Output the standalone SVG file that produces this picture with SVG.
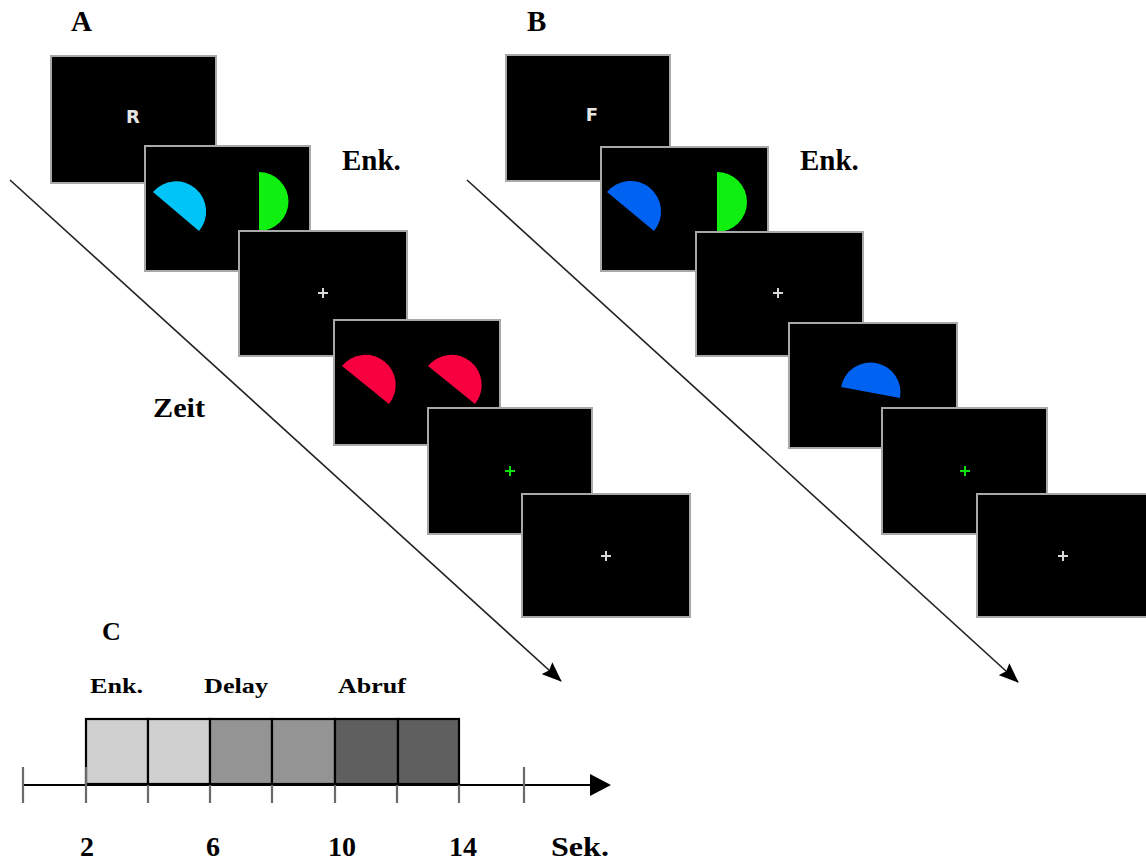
<svg xmlns="http://www.w3.org/2000/svg" width="1146" height="861" viewBox="0 0 1146 861">
<style>
.scr{fill:#000;stroke:#a8a8a8;stroke-width:2}
.lbl{font-family:"Liberation Serif","Times New Roman",serif;font-weight:bold;fill:#000}
.ltr{font-family:"DejaVu Sans","Liberation Sans",sans-serif;font-weight:bold;fill:#e6e6e6;font-size:18px}
.xw{stroke:#d8d8d8;stroke-width:2}
.xg{stroke:#10e010;stroke-width:2}
.tick{stroke:#6a6a6a;stroke-width:2.2}
.box{stroke:#000;stroke-width:2.2}
</style>
<defs>
<marker id="ah" viewBox="0 0 20 16" refX="19" refY="8" markerWidth="20" markerHeight="16" markerUnits="userSpaceOnUse" orient="auto">
<path d="M0,0 L20,8 L0,16 L3,8 Z" fill="#000"/>
</marker>
</defs>
<rect width="1146" height="861" fill="#fff"/>

<g id="connectors">
<line x1="10" y1="180" x2="561" y2="681" stroke="#222" stroke-width="1.6" marker-end="url(#ah)"/>
<line x1="467" y1="180" x2="1018" y2="682" stroke="#222" stroke-width="1.6" marker-end="url(#ah)"/>
</g>

<g id="labels">
<text class="lbl" x="71" y="31" font-size="29">A</text>
<text class="lbl" x="527" y="31" font-size="29">B</text>
<text class="lbl" x="342" y="170" font-size="29">Enk.</text>
<text class="lbl" x="800" y="170" font-size="29">Enk.</text>
<text class="lbl" x="153" y="417" font-size="27" font-weight="600" textLength="52" lengthAdjust="spacingAndGlyphs">Zeit</text>
</g>

<g id="panelA">
<g id="a1"><rect class="scr" x="51" y="56" width="165" height="127"/><text class="ltr" x="133" y="123" text-anchor="middle">R</text></g>
<g id="a2"><rect class="scr" x="145" y="146" width="165" height="125"/>
<path d="M153,192 A30,30 0 0 1 199,231 Z" fill="#00c4f8"/>
<path d="M259,172 A29.5,29.5 0 0 1 259,231 Z" fill="#10f010"/></g>
<g id="a3"><rect class="scr" x="239" y="231" width="168" height="125"/>
<line class="xw" x1="318" y1="293" x2="328" y2="293"/><line class="xw" x1="323" y1="288" x2="323" y2="298"/></g>
<g id="a4"><rect class="scr" x="334" y="320" width="166" height="125"/>
<path d="M342,366 A30,30 0 0 1 389,404 Z" fill="#f80040"/>
<path d="M428,366 A30,30 0 0 1 475,404 Z" fill="#f80040"/></g>
<g id="a5"><rect class="scr" x="428" y="408" width="164" height="126"/>
<line class="xg" x1="505" y1="471" x2="515" y2="471"/><line class="xg" x1="510" y1="466" x2="510" y2="476"/></g>
<g id="a6"><rect class="scr" x="522" y="494" width="168" height="123"/>
<line class="xw" x1="601" y1="556" x2="611" y2="556"/><line class="xw" x1="606" y1="551" x2="606" y2="561"/></g>
</g>

<g id="panelB">
<g id="b1"><rect class="scr" x="506" y="55" width="164" height="126"/><text class="ltr" x="592" y="121" text-anchor="middle">F</text></g>
<g id="b2"><rect class="scr" x="601" y="147" width="167" height="124"/>
<path d="M607,192 A30,30 0 0 1 654,231 Z" fill="#0062f0"/>
<path d="M717,172 A30,30 0 0 1 717,232 Z" fill="#10f010"/></g>
<g id="b3"><rect class="scr" x="696" y="232" width="167" height="124"/>
<line class="xw" x1="773" y1="293" x2="783" y2="293"/><line class="xw" x1="778" y1="288" x2="778" y2="298"/></g>
<g id="b4"><rect class="scr" x="789" y="323" width="168" height="125"/>
<path d="M841,387 A30,30 0 0 1 900,398 Z" fill="#0062f0"/></g>
<g id="b5"><rect class="scr" x="882" y="408" width="165" height="126"/>
<line class="xg" x1="960" y1="471" x2="970" y2="471"/><line class="xg" x1="965" y1="466" x2="965" y2="476"/></g>
<g id="b6"><rect class="scr" x="977" y="494" width="175" height="123"/>
<line class="xw" x1="1058" y1="556" x2="1068" y2="556"/><line class="xw" x1="1063" y1="551" x2="1063" y2="561"/></g>
</g>

<g id="panelC">
<text class="lbl" x="102" y="640" font-size="26">C</text>
<text class="lbl" x="90" y="693" font-size="22" textLength="53" lengthAdjust="spacingAndGlyphs">Enk.</text>
<text class="lbl" x="204" y="693" font-size="22" textLength="64" lengthAdjust="spacingAndGlyphs">Delay</text>
<text class="lbl" x="338" y="693" font-size="22" textLength="68" lengthAdjust="spacingAndGlyphs">Abruf</text>
<g id="boxes">
<rect class="box" x="86" y="719" width="62" height="65" fill="#d0d0d0"/>
<rect class="box" x="148" y="719" width="62" height="65" fill="#d0d0d0"/>
<rect class="box" x="210" y="719" width="62" height="65" fill="#949494"/>
<rect class="box" x="272" y="719" width="63" height="65" fill="#949494"/>
<rect class="box" x="335" y="719" width="63" height="65" fill="#5f5f5f"/>
<rect class="box" x="398" y="719" width="61" height="65" fill="#5f5f5f"/>
</g>
<g id="axis">
<line x1="22" y1="785" x2="592" y2="785" stroke="#000" stroke-width="2.2"/>
<path d="M590,774 L611,785 L590,796 Z" fill="#000"/>
<line class="tick" x1="23" y1="767" x2="23" y2="803"/>
<line class="tick" x1="86" y1="767" x2="86" y2="803"/>
<line class="tick" x1="148" y1="785" x2="148" y2="803"/>
<line class="tick" x1="210" y1="785" x2="210" y2="803"/>
<line class="tick" x1="272" y1="785" x2="272" y2="803"/>
<line class="tick" x1="335" y1="785" x2="335" y2="803"/>
<line class="tick" x1="397" y1="785" x2="397" y2="803"/>
<line class="tick" x1="459" y1="785" x2="459" y2="803"/>
<line class="tick" x1="524" y1="767" x2="524" y2="803"/>
</g>
<text class="lbl" x="87" y="856" font-size="28" text-anchor="middle">2</text>
<text class="lbl" x="213" y="856" font-size="28" text-anchor="middle">6</text>
<text class="lbl" x="342" y="856" font-size="28" text-anchor="middle">10</text>
<text class="lbl" x="463" y="856" font-size="28" text-anchor="middle">14</text>
<text class="lbl" x="551" y="856" font-size="28" textLength="58" lengthAdjust="spacingAndGlyphs">Sek.</text>
</g>
</svg>
